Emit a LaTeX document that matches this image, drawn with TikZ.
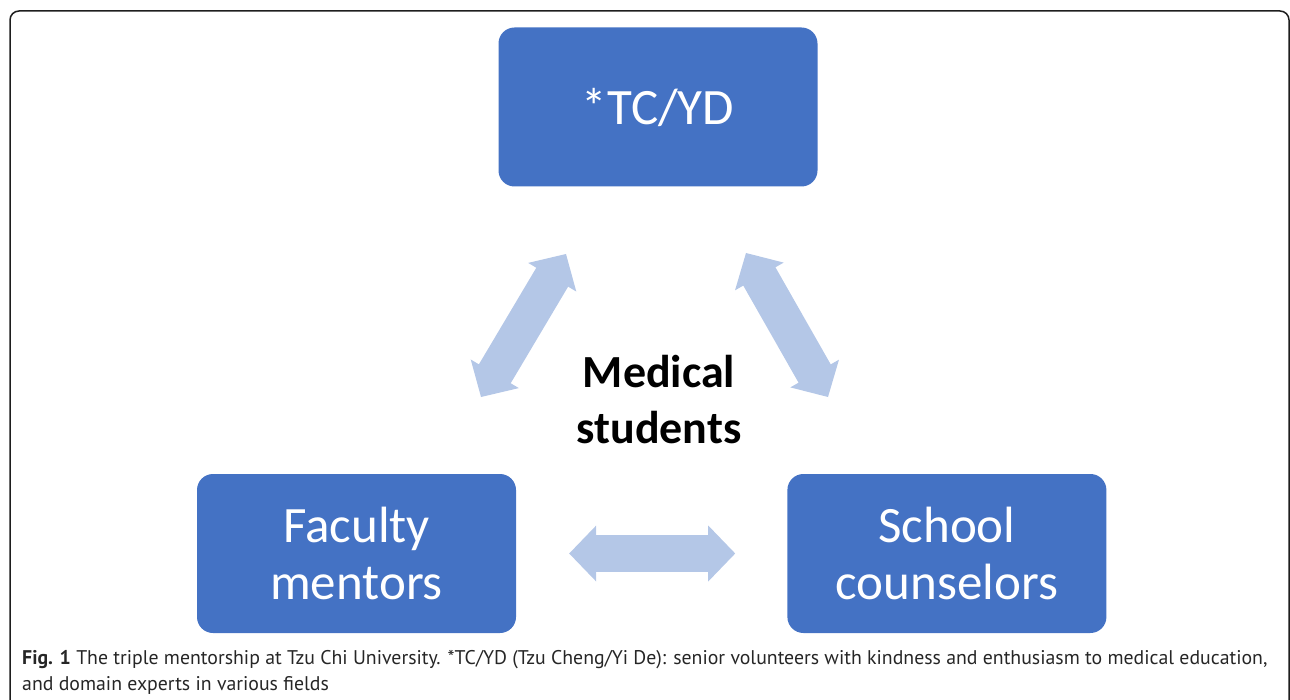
\documentclass[tikz,border=0pt]{standalone}
\usepackage{fontspec}
\setmainfont{Carlito}
\newfontfamily\captionfont{PT Sans}
\usepackage{tikz}
\usetikzlibrary{positioning, arrows.meta}
\definecolor{boxblue}{RGB}{68,114,196}
\definecolor{arrowblue}{RGB}{180,199,231}
\definecolor{framegrey}{RGB}{30,30,30}
\tikzset{
	rolebox/.style={
	rectangle, rounded corners=16pt, fill=boxblue, text=white,
	minimum width=319pt, minimum height=159pt, align=center,
	font=\fontsize{51}{57}\selectfont
	},
	twoway/.style={draw=arrowblue, line width=37pt, line cap=round, {Triangle[width=56pt,length=27pt,line width=0pt]}-{Triangle[width=56pt,length=27pt,line width=0pt]}},
}

\begin{document}
\begin{tikzpicture}[x=1pt, y=-1pt, node distance=0pt and 271pt]
			\tikzstyle{centre}=[align=center, font=\bfseries\fontsize{46}{56}\selectfont]
			\tikzstyle{caption}=[anchor=north west, align=left, inner sep=0pt, text=black!85, font=\captionfont\fontsize{19.8}{26}\selectfont]
			\useasboundingbox (0,0) rectangle (1290,700);
			\clip (0,0) rectangle (1290,700);
			\draw[framegrey, line width=1.5pt, rounded corners=9pt] (10,11) rectangle (1289,740);
			
			\node[rolebox] (tcyd) at (658,107) {*TC/YD};
			\node[rolebox] (mentors) at (356.5,553.5) {Faculty\\mentors};
			\node[rolebox, right=of mentors] (counselors) {School\\counselors};
			\node[centre] (students) at (659,400) {Medical\\students};
			
			\coordinate (mentors-up) at (481,397);
			\coordinate (tcyd-left) at (566,254);
			\coordinate (tcyd-right) at (746,253);
			\coordinate (counselors-up) at (828,397);
			\path[twoway] (mentors-up) -- (tcyd-left);
			\path[twoway] (tcyd-right) -- (counselors-up);
			\path[twoway, shorten <=53pt, shorten >=52pt] (mentors) -- (counselors);
			
			\node[caption] (legend) at (22,650) {\textbf{Fig. 1} The triple mentorship at Tzu Chi University. *TC/YD (Tzu Cheng/Yi De): senior volunteers with kindness and enthusiasm to medical education,\\and domain experts in various fields};
		\end{tikzpicture}
\end{document}
